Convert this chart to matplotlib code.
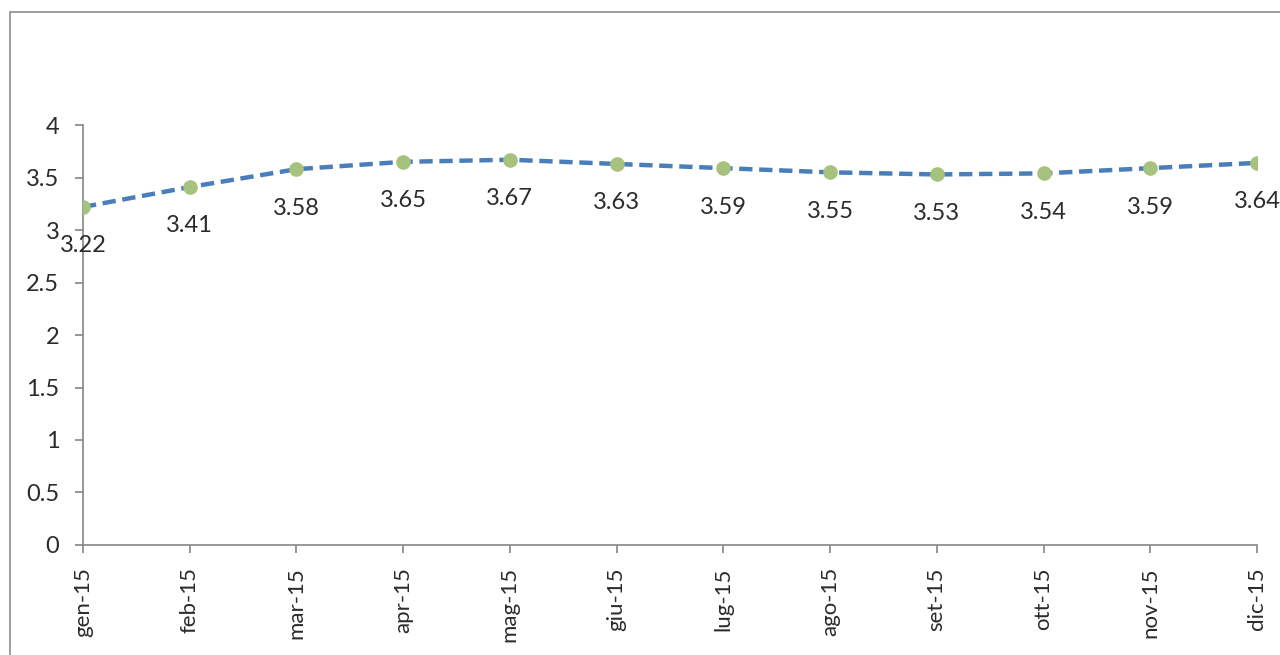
import matplotlib.pyplot as plt
from matplotlib.patches import Rectangle

# monthly values
months = ['gen-15', 'feb-15', 'mar-15', 'apr-15', 'mag-15', 'giu-15',
          'lug-15', 'ago-15', 'set-15', 'ott-15', 'nov-15', 'dic-15']
values = [3.22, 3.41, 3.58, 3.65, 3.67, 3.63, 3.59, 3.55, 3.53, 3.54, 3.59, 3.64]
y_ticks = [0, 0.5, 1, 1.5, 2, 2.5, 3, 3.5, 4]

plt.rcParams['font.family'] = ['Lato', 'DejaVu Sans']

fig = plt.figure(figsize=(12.8, 6.55), dpi=100)
ax = fig.add_axes([0.0648, 0.168, 0.9172, 0.641])

# outer chart frame
fig.patches.append(Rectangle((0.0078, -0.1), 1.1, 1.0817, transform=fig.transFigure,
                             fill=False, edgecolor='#8c8c8c', linewidth=1.2))

x = list(range(len(months)))
ax.plot(x, values, color='#4a7ebb', linestyle=(0, (3, 1.5)), linewidth=3.2,
        marker='o', markersize=9.5, markerfacecolor='#a7c27c',
        markeredgecolor='#a7c27c', zorder=3)

for xi, v in zip(x, values):
    ax.annotate(f'{v:.2f}', (xi, v), xytext=(0, -28), textcoords='offset points',
                ha='center', va='center', fontsize=17, color='#2b2b2b')

ax.set_xlim(0, len(months) - 1)
ax.set_ylim(0, 4)
ax.set_yticks(y_ticks)
ax.set_yticklabels([f'{t:g}' for t in y_ticks])
ax.set_xticks(x)
ax.set_xticklabels(months, rotation=90)

for side in ['top', 'right']:
    ax.spines[side].set_visible(False)
for side in ['left', 'bottom']:
    ax.spines[side].set_color('#868686')
    ax.spines[side].set_linewidth(1.2)
ax.tick_params(axis='both', colors='#868686', length=6, width=1.2,
               labelcolor='#2b2b2b')
ax.tick_params(axis='y', pad=11, labelsize=17)
ax.tick_params(axis='x', pad=10, labelsize=16)

fig.savefig('out.png', dpi=100)
